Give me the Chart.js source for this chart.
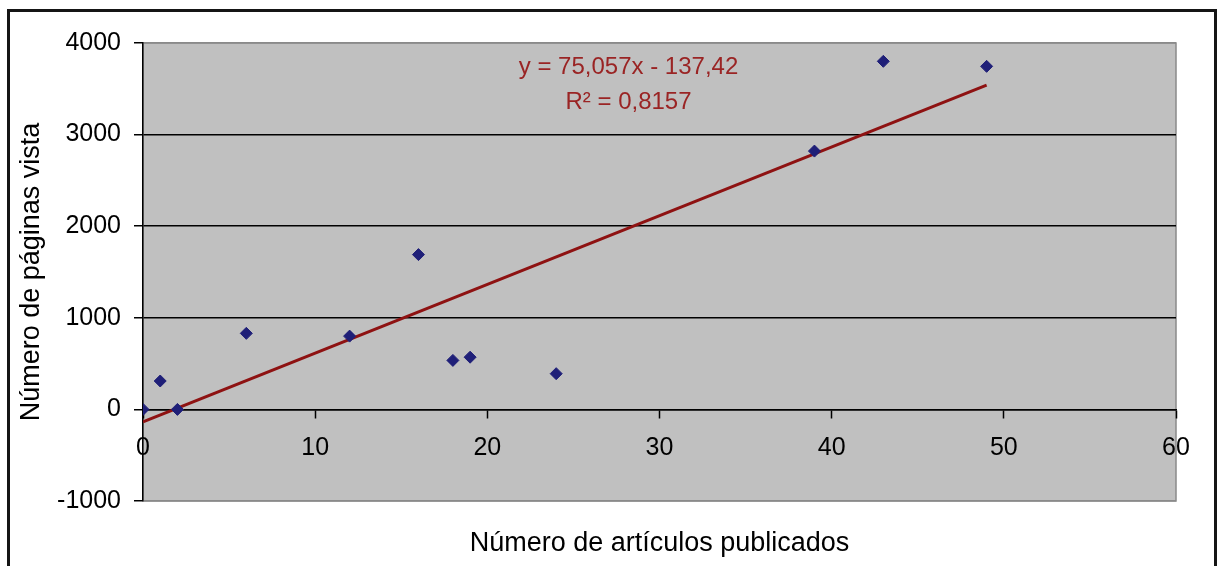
<!DOCTYPE html>
<html>
<head>
<meta charset="utf-8">
<script src="https://cdn.jsdelivr.net/npm/chart.js@4.4.1/dist/chart.umd.min.js"></script>
<style>
    html, body { margin: 0; padding: 0; background: #fff; overflow: hidden; }
    #frame {
        position: absolute; left: 7px; top: 9px; width: 1204px; height: 620px;
        border: 3px solid #151515; border-bottom: none;
    }
    #wrap { position: absolute; left: 0; top: 0; width: 1221px; height: 566px; }
</style>
</head>
<body>
<div id="frame"></div>
<div id="wrap"><canvas id="myChart"></canvas></div>
<script>
// articles published vs page views
var articles = [0, 1, 2, 6, 12, 16, 18, 19, 24, 39, 43, 49];
var pageViews = [0, 310, 0, 830, 800, 1690, 535, 570, 390, 2820, 3800, 3745];

// trendline end points, y = 75,057x - 137,42
var trendX = [0, 49];
var trendY = [-137, 3540];

var eqLines = ["y = 75,057x - 137,42", "R² = 0,8157"];

var xTicks = [0, 10, 20, 30, 40, 50, 60];
var yTicks = [-1000, 0, 1000, 2000, 3000, 4000];

const FONT = "'Liberation Sans', Arial, sans-serif";

var points = articles.map((x, i) => ({x: x, y: pageViews[i]}));
var trend = trendX.map((x, i) => ({x: x, y: trendY[i]}));

// gray plot background, axis title and trendline label
const decor = {
    id: 'decor',
    beforeDraw(chart) {
        const a = chart.chartArea, ctx = chart.ctx;
        ctx.save();
        ctx.fillStyle = '#c0c0c0';
        ctx.fillRect(a.left, a.top, a.right - a.left, a.bottom - a.top);
        ctx.strokeStyle = '#8a8a8a';
        ctx.lineWidth = 1.5;
        ctx.strokeRect(a.left, a.top, a.right - a.left, a.bottom - a.top);
        ctx.restore();
    },
    afterDraw(chart) {
        const a = chart.chartArea, ctx = chart.ctx;
        ctx.save();
        ctx.fillStyle = '#000';
        ctx.font = "27px " + FONT;
        ctx.textAlign = 'center';
        ctx.textBaseline = 'middle';
        ctx.fillText("Número de artículos publicados", (a.left + a.right) / 2, 544);

        ctx.fillStyle = '#9a2424';
        ctx.font = "24px " + FONT;
        const xs = chart.scales.x, ys = chart.scales.y;
        ctx.fillText(eqLines[0], xs.getPixelForValue(28.2), ys.getPixelForValue(3735));
        ctx.fillText(eqLines[1], xs.getPixelForValue(28.2), ys.getPixelForValue(3350));
        ctx.restore();
    }
};

function createChart() {
    var ctx = document.getElementById("myChart").getContext("2d");

    const config = {
        type: 'scatter',
        data: {
            datasets: [{
                label: 'Páginas vista',
                data: points,
                pointStyle: 'rectRot',
                radius: 6,
                backgroundColor: '#1f1f78',
                borderColor: '#1f1f78',
                order: 1
            }, {
                label: 'Tendencia',
                type: 'line',
                data: trend,
                borderColor: '#8e1212',
                borderWidth: 3,
                pointRadius: 0,
                fill: false,
                order: 2
            }]
        },
        options: {
            responsive: true,
            maintainAspectRatio: false,
            animation: false,
            layout: { padding: { left: 0, top: 43, right: 45, bottom: 65 } },
            scales: {
                x: {
                    type: 'linear',
                    position: { y: 0 },
                    min: 0,
                    max: 60,
                    afterBuildTicks: (s) => { s.ticks = xTicks.map(v => ({value: v})); },
                    grid: {
                        drawOnChartArea: false,
                        drawTicks: true,
                        tickLength: 8,
                        tickColor: '#000',
                        tickWidth: 1.5
                    },
                    border: { color: '#000', width: 1.5 },
                    ticks: {
                        padding: 16,
                        color: '#000',
                        font: { family: FONT, size: 25 },
                        callback: (v) => String(v)
                    }
                },
                y: {
                    min: -1000,
                    max: 4000,
                    afterBuildTicks: (s) => { s.ticks = yTicks.map(v => ({value: v})); },
                    afterFit: (s) => { s.width = 143; },
                    grid: {
                        color: (c) => (c.tick && (c.tick.value === 4000 || c.tick.value === -1000)) ? '#8a8a8a' : '#000',
                        lineWidth: 1.5,
                        tickLength: 9,
                        tickColor: '#000'
                    },
                    border: { color: '#000', width: 1.5 },
                    ticks: {
                        padding: 13,
                        color: '#000',
                        font: { family: FONT, size: 25 },
                        callback: (v) => String(v)
                    },
                    title: {
                        display: true,
                        text: 'Número de páginas vista',
                        color: '#000',
                        font: { family: FONT, size: 27 },
                        padding: { top: 15, bottom: 0 }
                    }
                }
            },
            plugins: {
                legend: { display: false },
                tooltip: { enabled: false }
            }
        },
        plugins: [decor]
    };

    new Chart(ctx, config);
}

createChart();
</script>
</body>
</html>
